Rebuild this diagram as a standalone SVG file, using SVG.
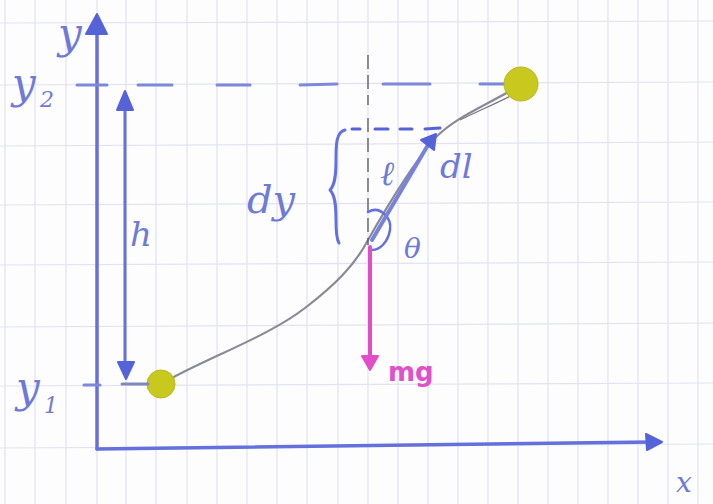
<svg xmlns="http://www.w3.org/2000/svg" width="713" height="504" viewBox="0 0 713 504">
<defs>
<style>
.grid line{stroke:#e2e2f2;stroke-width:1.2}
.ink{stroke:#6470dc;fill:none;stroke-linecap:round;stroke-linejoin:round}
.lbl{font-family:"DejaVu Serif",serif;font-style:italic;fill:#6f7ad6}
.mg{font-family:"DejaVu Sans",sans-serif;font-weight:bold;fill:#e050c8}
.ball{fill:#c8c81e;stroke:#b8b820;stroke-width:1}
</style>
</defs>
<rect width="713" height="504" fill="#fdfdfe"/>
<g class="grid">
<line x1="5" y1="0" x2="5" y2="504"/><line x1="35" y1="0" x2="35" y2="504"/><line x1="66" y1="0" x2="66" y2="504"/><line x1="97" y1="0" x2="97" y2="504"/><line x1="126" y1="0" x2="126" y2="504"/><line x1="156" y1="0" x2="156" y2="504"/><line x1="187" y1="0" x2="187" y2="504"/><line x1="217" y1="0" x2="217" y2="504"/><line x1="247" y1="0" x2="247" y2="504"/><line x1="277" y1="0" x2="277" y2="504"/><line x1="307" y1="0" x2="307" y2="504"/><line x1="338" y1="0" x2="338" y2="504"/><line x1="368" y1="0" x2="368" y2="504"/><line x1="398" y1="0" x2="398" y2="504"/><line x1="428" y1="0" x2="428" y2="504"/><line x1="458" y1="0" x2="458" y2="504"/><line x1="488" y1="0" x2="488" y2="504"/><line x1="518" y1="0" x2="518" y2="504"/><line x1="548" y1="0" x2="548" y2="504"/><line x1="578" y1="0" x2="578" y2="504"/><line x1="608" y1="0" x2="608" y2="504"/><line x1="638" y1="0" x2="638" y2="504"/><line x1="668" y1="0" x2="668" y2="504"/><line x1="698" y1="0" x2="698" y2="504"/>
<line x1="0" y1="23" x2="713" y2="21"/><line x1="0" y1="85" x2="713" y2="82"/><line x1="0" y1="146" x2="713" y2="142"/><line x1="0" y1="205" x2="713" y2="202"/><line x1="0" y1="265" x2="713" y2="262"/><line x1="0" y1="327" x2="713" y2="323"/><line x1="0" y1="386" x2="713" y2="383"/><line x1="0" y1="448" x2="713" y2="444"/>
</g>
<g id="axes">
<path class="ink" d="M97,449 L97,30" stroke-width="3.5"/>
<path d="M86,34 L97,14 L107,34 z" fill="#5563d8" stroke="#5563d8" stroke-width="2" stroke-linejoin="round"/>
<path class="ink" d="M97,449 L652,442" stroke-width="3.5"/>
<path d="M646,434 L662,442 L647,450 z" fill="#5563d8" stroke="#5563d8" stroke-width="2" stroke-linejoin="round"/>
</g>
<g id="curve">
<path d="M172,378 C215,355 270,335 305,308 C335,285 355,265 368,240 C385,210 410,168 435,138 C455,118 480,108 512,90" fill="none" stroke="#8a8a96" stroke-width="2.2" stroke-linecap="round"/>
<path d="M460,120 C480,110 500,102 518,92" fill="none" stroke="#777782" stroke-width="1.3"/>
</g>
<g id="guides">
<path d="M77,85 L107,85 M138,85 L172,85 M217,85 L250,85 M300,85 L337,84 M383,84 L430,84 M480,84 L508,84" stroke="#7d88d8" stroke-width="3" stroke-linecap="round" fill="none"/>
<path d="M368,55 L368,105 M368,118 L368,245" stroke="#55556a" stroke-width="1.3" stroke-dasharray="14,6" fill="none"/>
<path d="M352,129 L360,129 M375,129 L388,129 M400,129 L412,129 M425,129 L440,128" stroke="#5563d8" stroke-width="3" stroke-linecap="round" fill="none"/>
<path class="ink" d="M345,130 C336,132 336,145 336,160 C336,175 335,185 330,190 C335,195 336,205 336,220 C336,232 337,240 339,243" stroke-width="3"/>
<path class="ink" d="M368,212 C380,205 392,218 390,230 C388,242 380,250 372,250" stroke-width="2.5"/>
</g>
<g id="connectors">
<path class="ink" d="M125,108 L125,364" stroke-width="3"/>
<path d="M117,110 L125,91 L133,110 z" fill="#5563d8" stroke="#5563d8" stroke-width="2" stroke-linejoin="round"/>
<path d="M118,362 L126,379 L134,362 z" fill="#5563d8" stroke="#5563d8" stroke-width="2" stroke-linejoin="round"/>
<path d="M372,240 L428,145" stroke="#7682dc" stroke-width="4" stroke-linecap="round" fill="none"/>
<path d="M421,140 L436,134 L434,150 z" fill="#5563d8" stroke="#5563d8" stroke-width="2" stroke-linejoin="round"/>
<path d="M370,247 L370,360" stroke="#e24ec8" stroke-width="4" stroke-linecap="round" fill="none"/>
<path d="M362,356 L370,370 L378,356 z" fill="#e24ec8" stroke="#e24ec8" stroke-width="2" stroke-linejoin="round"/>
</g>
<g id="node-y1">
<circle class="ball" cx="161" cy="384" r="14"/>
<path d="M122,384 L148,384" stroke="#7d88c0" stroke-width="3" stroke-linecap="round"/>
<path d="M84,385 L100,385" stroke="#7d88d8" stroke-width="3" stroke-linecap="round"/>
</g>
<g id="node-y2">
<circle class="ball" cx="521" cy="84" r="17"/>
</g>
<g id="labels">
<text class="lbl" x="58" y="48" font-size="42">y</text>
<text class="lbl" x="12" y="98" font-size="42">y</text><text class="lbl" x="40" y="107" font-size="22">2</text>
<text class="lbl" x="16" y="402" font-size="42">y</text><text class="lbl" x="44" y="413" font-size="22">1</text>
<text class="lbl" x="130" y="246" font-size="34">h</text>
<text class="lbl" x="247" y="213" font-size="40">dy</text>
<text class="lbl" x="380" y="185" font-size="34">ℓ</text>
<text class="lbl" x="440" y="178" font-size="34">dl</text>
<text class="lbl" x="404" y="258" font-size="28">θ</text>
<text class="mg" x="388" y="381" font-size="26">mg</text>
<text class="lbl" x="676" y="492" font-size="28">x</text>
</g>
</svg>
